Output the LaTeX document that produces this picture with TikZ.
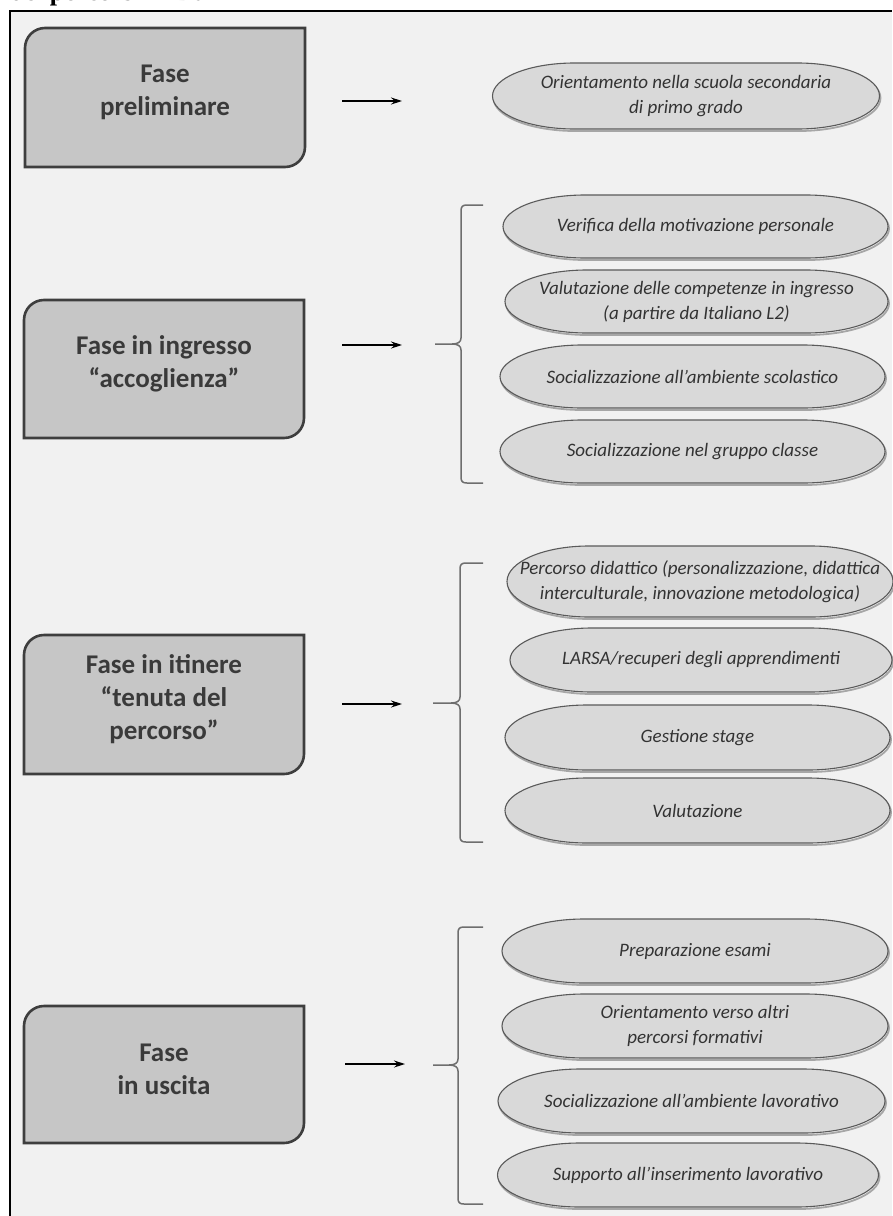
\documentclass[tikz,border=0pt]{standalone}
\usepackage{fontspec}
\setmainfont{Carlito}
\newfontfamily\headfont{Liberation Serif}
\usetikzlibrary{arrows.meta}
\definecolor{bgcol}{HTML}{F1F1F1}
\definecolor{boxfill}{HTML}{C6C6C6}
\definecolor{boxline}{HTML}{3E3E3E}
\definecolor{ellfill}{HTML}{D9D9D9}
\definecolor{ellline}{HTML}{5A5A5A}
\definecolor{txtbox}{HTML}{3A3A3A}
\definecolor{txtell}{HTML}{333333}
\definecolor{bracecol}{HTML}{6E6E6E}
\tikzset{
 phaseshape/.style={draw=boxline, line width=2.6pt, fill=boxfill},
 phasetext/.style={text=txtbox, font=\fontsize{27}{33}\selectfont\bfseries, align=center, inner sep=0pt},
 pillshape/.style={draw=ellline, line width=1.1pt, fill=ellfill},
 pillshadow/.style={draw=black!35, line width=1.8pt},
 pilltext/.style={text=txtell, font=\fontsize{19}{25}\selectfont\itshape, align=center, inner sep=0pt},
 flowarrow/.style={-{Stealth[length=11pt,width=7pt]}, line width=1.2pt, black},
 bracket/.style={draw=bracecol, line width=1.5pt},
}
\newcommand\phasebox[6]{%
 \draw[phaseshape] (#2,#5) -- (#2,#3+20) arc[start angle=180,end angle=270,radius=20] -- (#4,#3) -- (#4,#5-20) arc[start angle=0,end angle=90,radius=20] -- cycle;
 \node[phasetext] (#1) at ({(#2+#4)/2},{(#3+#5)/2-5}) {#6};
}
\newcommand\pillpath{(\pXa,\pYc) arc[start angle=180,end angle=270,x radius=\pRx,y radius=\pRy] -- (\pXd,\pYa) arc[start angle=270,end angle=360,x radius=\pRx,y radius=\pRy] arc[start angle=0,end angle=90,x radius=\pRx,y radius=\pRy] -- (\pXc,\pYb) arc[start angle=90,end angle=180,x radius=\pRx,y radius=\pRy] -- cycle}
\newcommand\pill[6]{%
 \pgfmathsetmacro\pXa{#2-#4/2}\pgfmathsetmacro\pXb{#2+#4/2}%
 \pgfmathsetmacro\pYa{#3-#5/2}\pgfmathsetmacro\pYb{#3+#5/2}%
 \pgfmathsetmacro\pYc{#3}\pgfmathsetmacro\pRy{#5/2}\def\pRx{82}%
 \pgfmathsetmacro\pXc{\pXa+\pRx}\pgfmathsetmacro\pXd{\pXb-\pRx}%
 \draw[pillshadow, shift={(1,2)}] \pillpath;
 \draw[pillshape] \pillpath;
 \node[pilltext] (#1) at (#2,#3) {#6};
}
\newcommand\bracepath[5]{%
 \draw[bracket] (483,#2) -- (#1+6,#2) .. controls (#1+1.5,#2) and (#1,#2+1.5) .. (#1,#2+6) -- (#1,#3-6) .. controls (#1,#3-2) and (#1-3,#3) .. (#1-9,#3) -- (#5,#3);
 \draw[bracket] (#1-9,#3) .. controls (#1-3,#3) and (#1,#3+2) .. (#1,#3+6) -- (#1,#4-6) .. controls (#1,#4-1.5) and (#1+1.5,#4) .. (#1+6,#4) -- (483,#4);
}
\begin{document}
\begin{tikzpicture}[x=1pt,y=-1pt]
\useasboundingbox (0,0) rectangle (892,1216);
\fill[white] (0,0) rectangle (892,1216);
\node[font=\headfont\bfseries\fontsize{26}{26}\selectfont, anchor=base west, inner sep=0pt] (hdr) at (10,0) {dei percorsi in DaH};
\fill[bgcol] (9.5,11) rectangle (892,1216);
\draw[line width=2pt, black] (9.5,1216) -- (9.5,11) -- (892,11);

% phase boxes
\phasebox{p1}{25}{28}{305}{167}{Fase\\preliminare}
\phasebox{p2}{24}{300}{304}{438}{Fase in ingresso\\“accoglienza”}
\phasebox{p3}{24}{635}{304}{774}{Fase in itinere\\“tenuta del\\percorso”}
\phasebox{p4}{24}{1006}{304}{1143}{Fase\\in uscita}

% arrows
\coordinate (a1s) at (342,101); \coordinate (a1e) at (402,101);
\coordinate (a2s) at (342,345); \coordinate (a2e) at (402,345);
\coordinate (a3s) at (342,704); \coordinate (a3e) at (402,704);
\coordinate (a4s) at (345,1064); \coordinate (a4e) at (405,1064);
\draw[flowarrow] (a1s) -- (a1e);
\draw[flowarrow] (a2s) -- (a2e);
\draw[flowarrow] (a3s) -- (a3e);
\draw[flowarrow] (a4s) -- (a4e);

% braces
\bracepath{461}{205}{344}{483}{435}
\bracepath{460}{563}{703}{842}{433}
\bracepath{458}{927}{1065}{1204}{433}

% ellipses
\pill{e1}{686}{96}{387}{66}{Orientamento nella scuola secondaria\\di primo grado}
\pill{e2a}{695.5}{226.5}{385}{63}{Verifica della motivazione personale}
\pill{e2b}{696.5}{301.5}{383}{63}{Valutazione delle competenze in ingresso\\(a partire da Italiano L2)}
\pill{e2c}{692.5}{376.5}{385}{63}{Socializzazione all’ambiente scolastico}
\pill{e2d}{692.5}{451.5}{385}{63}{Socializzazione nel gruppo classe}
\pill{e3a}{700}{581.5}{386}{71}{Percorso didattico (personalizzazione, didattica\\interculturale, innovazione metodologica)}
\pill{e3b}{701}{660}{382}{64}{LARSA/recuperi degli apprendimenti}
\pill{e3c}{697.5}{737.5}{385}{65}{Gestione stage}
\pill{e3d}{697.5}{810.5}{385}{65}{Valutazione}
\pill{e4a}{695}{951}{386}{64}{Preparazione esami}
\pill{e4b}{695}{1026}{386}{64}{Orientamento verso altri\\percorsi formativi}
\pill{e4c}{691.5}{1101}{387}{64}{Socializzazione all’ambiente lavorativo}
\pill{e4d}{688}{1175}{381}{64}{Supporto all’inserimento lavorativo}
\end{tikzpicture}
\end{document}
